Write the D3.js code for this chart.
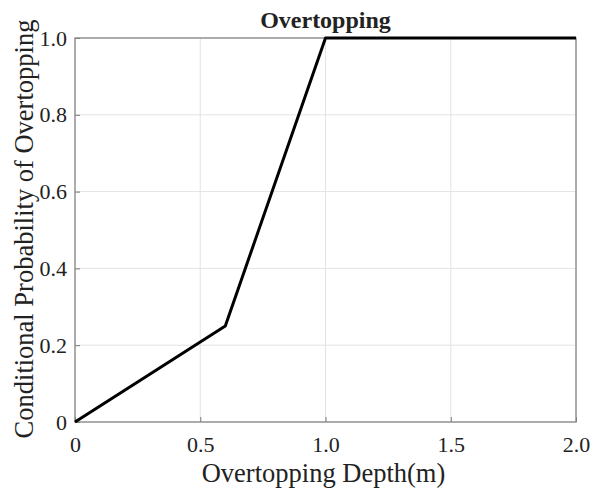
<!DOCTYPE html>
<html>
<head>
<meta charset="utf-8">
<script src="https://cdn.jsdelivr.net/npm/d3@7"></script>
<style>
	body { margin: 0; background: #fff; }
	text { font-family: "Liberation Serif", "Times New Roman", serif; fill: #222; }
</style>
</head>
<body>
<svg id="chart" width="592" height="489"></svg>
<script>
// data
var depth = [0, 0.6, 1.0, 2.0];
var prob = [0, 0.25, 1.0, 1.0];
var xTicks = [0, 0.5, 1.0, 1.5, 2.0];
var xTickLabels = ["0", "0.5", "1.0", "1.5", "2.0"];
var yTicks = [0, 0.2, 0.4, 0.6, 0.8, 1.0];
var yTickLabels = ["0", "0.2", "0.4", "0.6", "0.8", "1.0"];

var svg = d3.select("#chart");
var pLeft = 75, pRight = 576, pTop = 38, pBottom = 422;

var x = d3.scaleLinear().domain([0, 2]).range([pLeft, pRight]);
var y = d3.scaleLinear().domain([0, 1]).range([pBottom, pTop]);

// grid
svg.append("g").selectAll("line").data(xTicks).enter().append("line")
	.attr("x1", function(d){ return x(d); }).attr("x2", function(d){ return x(d); })
	.attr("y1", pTop).attr("y2", pBottom)
	.attr("stroke", "#e3e3e3").attr("stroke-width", 1);
svg.append("g").selectAll("line").data(yTicks).enter().append("line")
	.attr("y1", function(d){ return y(d); }).attr("y2", function(d){ return y(d); })
	.attr("x1", pLeft).attr("x2", pRight)
	.attr("stroke", "#e3e3e3").attr("stroke-width", 1);

// axes
var xAxis = d3.axisBottom(x).tickValues(xTicks).tickSizeInner(-5).tickSizeOuter(0)
	.tickPadding(14).tickFormat(function(d, i){ return xTickLabels[i]; });
var yAxis = d3.axisLeft(y).tickValues(yTicks).tickSizeInner(-5).tickSizeOuter(0)
	.tickPadding(8).tickFormat(function(d, i){ return yTickLabels[i]; });

var gx = svg.append("g").attr("transform", "translate(0," + pBottom + ")").call(xAxis);
var gy = svg.append("g").attr("transform", "translate(" + pLeft + ",0)").call(yAxis);
[gx, gy].forEach(function(g){
	g.select(".domain").remove();
	g.selectAll(".tick line").attr("stroke", "#777");
	g.selectAll(".tick text").style("font-family", "Liberation Serif").style("font-size", "22px").attr("fill", "#222");
});

// box
svg.append("rect").attr("x", pLeft).attr("y", pTop)
	.attr("width", pRight - pLeft).attr("height", pBottom - pTop)
	.attr("fill", "none").attr("stroke", "#888").attr("stroke-width", 1.3);

// line
var line = d3.line().x(function(d, i){ return x(depth[i]); }).y(function(d){ return y(d); });
svg.append("path").datum(prob).attr("d", line)
	.attr("fill", "none").attr("stroke", "#000").attr("stroke-width", 3).attr("stroke-linejoin", "round");

// labels
svg.append("text").attr("x", (pLeft + pRight) / 2).attr("y", 28).attr("text-anchor", "middle")
	.style("font-size", "24px").style("font-weight", "bold").attr("fill", "#111").text("Overtopping");
svg.append("text").attr("x", (pLeft + pRight) / 2 - 2).attr("y", 482).attr("text-anchor", "middle")
	.style("font-size", "26.5px").text("Overtopping Depth(m)");
svg.append("text").attr("transform", "translate(33," + ((pTop + pBottom) / 2 - 1) + ") rotate(-90)")
	.attr("text-anchor", "middle").style("font-size", "26.5px").text("Conditional Probability of Overtopping");
</script>
</body>
</html>
